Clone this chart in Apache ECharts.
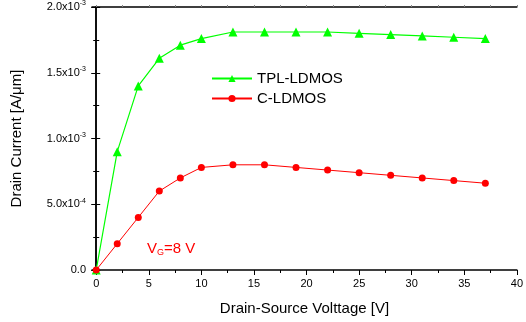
<!DOCTYPE html>
<html>
<head>
<meta charset="utf-8">
<script src="https://cdn.jsdelivr.net/npm/echarts@6/dist/echarts.min.js"></script>
<style>
  html, body { margin: 0; padding: 0; background: #fff; }
  #chart { width: 526px; height: 322px; }
</style>
</head>
<body>
<div id="chart"></div>
<script>
// drain-source voltage [V]
const vds = [0, 2, 4, 6, 8, 10, 13, 16, 19, 22, 25, 28, 31, 34, 37];
// drain current [A/um]
const tplLdmos = [0, 0.90e-3, 1.40e-3, 1.61e-3, 1.71e-3, 1.76e-3, 1.81e-3, 1.81e-3, 1.81e-3, 1.81e-3, 1.80e-3, 1.79e-3, 1.78e-3, 1.77e-3, 1.76e-3];
const cLdmos = [0, 0.20e-3, 0.40e-3, 0.60e-3, 0.70e-3, 0.78e-3, 0.80e-3, 0.80e-3, 0.78e-3, 0.76e-3, 0.74e-3, 0.72e-3, 0.70e-3, 0.68e-3, 0.66e-3];
const xMajor = [0, 5, 10, 15, 20, 25, 30, 35, 40];
const xMinor = [2.5, 7.5, 12.5, 17.5, 22.5, 27.5, 32.5, 37.5];

const FONT = "Liberation Sans, Arial, sans-serif";
const chart = echarts.init(document.getElementById("chart"));

// y labels like 1.5x10^-3
const fmtY = (v) => {
  if (v === 0) return "0.0";
  const e = Math.floor(Math.log10(v) + 1e-9);
  const m = v / Math.pow(10, e);
  return m.toFixed(1) + "x10{sup|" + e + "}";
};

const toPairs = (ys) => vds.map((x, i) => [x, ys[i]]);

const xBase = { type: "value", min: -0.4, max: 40, splitLine: { show: false } };

chart.setOption({
  animation: false,
  textStyle: { fontFamily: FONT },
  grid: { left: 92, right: 6, top: 7, bottom: 52 },
  legend: {
    orient: "vertical",
    left: 206,
    top: 66,
    itemWidth: 40,
    itemHeight: 9,
    itemGap: 5,
    textStyle: { fontFamily: FONT, fontSize: 15, color: "#000" },
    data: ["TPL-LDMOS", "C-LDMOS"],
  },
  xAxis: [
    {
      ...xBase,
      position: "bottom",
      name: "Drain-Source Volttage [V]",
      nameLocation: "middle",
      nameGap: 31,
      nameTextStyle: { fontSize: 15, color: "#000", fontFamily: FONT },
      axisLine: { lineStyle: { color: "#000", width: 1.5 } },
      axisTick: { customValues: xMajor, length: 5, lineStyle: { color: "#000" } },
      axisLabel: { customValues: xMajor, fontSize: 11, color: "#000", margin: 8 },
    },
    {
      ...xBase,
      position: "bottom",
      axisLine: { show: false },
      axisTick: { customValues: xMinor, length: 3, lineStyle: { color: "#000" } },
      axisLabel: { show: false },
    },
    {
      ...xBase,
      position: "top",
      axisLine: { lineStyle: { color: "#000", width: 1.5 } },
      axisTick: { customValues: xMajor.concat(xMinor), length: 2, lineStyle: { color: "#888" } },
      axisLabel: { show: false },
    },
  ],
  yAxis: [
    {
      type: "value",
      min: 0,
      max: 2e-3,
      interval: 5e-4,
      name: "Drain Current [A/\u03bcm]",
      nameLocation: "middle",
      nameGap: 68,
      nameTextStyle: { fontSize: 15, color: "#000", fontFamily: FONT },
      axisLine: { show: true, lineStyle: { color: "#000", width: 1.5 } },
      axisTick: { show: true, length: 5, lineStyle: { color: "#000" } },
      minorTick: { show: true, splitNumber: 2, length: 3, lineStyle: { color: "#000" } },
      splitLine: { show: false },
      axisLabel: {
        fontSize: 11,
        color: "#000",
        margin: 6,
        formatter: fmtY,
        rich: { sup: { fontSize: 7, color: "#000", verticalAlign: "top", padding: [0, 0, 7, 0] } },
      },
    },
    {
      type: "value",
      min: 0,
      max: 2e-3,
      interval: 5e-4,
      position: "right",
      axisLine: { show: true, lineStyle: { color: "#000", width: 1.5 } },
      axisTick: { show: true, length: 4, lineStyle: { color: "#000" } },
      minorTick: { show: true, splitNumber: 2, length: 3, lineStyle: { color: "#000" } },
      splitLine: { show: false },
      axisLabel: { show: false },
    },
  ],
  graphic: [
    {
      type: "text",
      left: 147,
      top: 241,
      style: {
        text: "V{sub|G}=8 V",
        fill: "#ff0000",
        font: "15px " + FONT,
        rich: { sub: { fontSize: 9, fill: "#ff0000", padding: [9, 0, 0, 0] } },
      },
    },
  ],
  series: [
    {
      name: "TPL-LDMOS",
      type: "line",
      data: toPairs(tplLdmos),
      symbol: "triangle",
      symbolSize: 9,
      itemStyle: { color: "#00ff00" },
      lineStyle: { color: "#00ff00", width: 1.2 },
      z: 3,
    },
    {
      name: "C-LDMOS",
      type: "line",
      data: toPairs(cLdmos),
      symbol: "circle",
      symbolSize: 7,
      itemStyle: { color: "#ff0000" },
      lineStyle: { color: "#ff0000", width: 1 },
      z: 4,
    },
  ],
});
</script>
</body>
</html>
